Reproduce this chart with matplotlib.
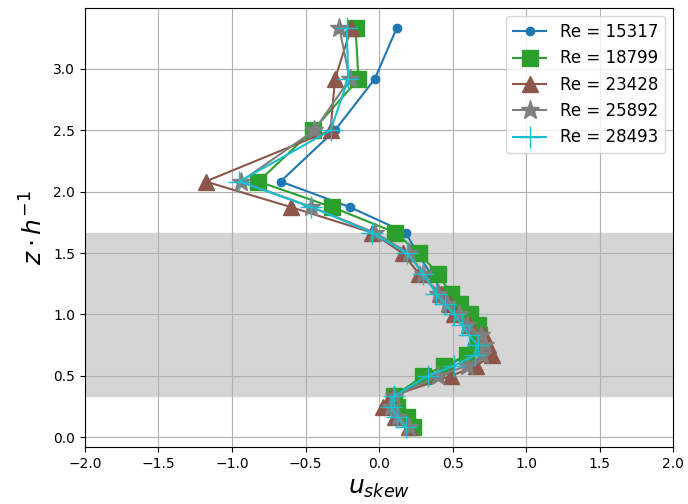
import matplotlib
matplotlib.use("Agg")
from matplotlib import pyplot as plt

# measurement heights (z/h) and skewness profiles for each Re
z = [0.083, 0.167, 0.25, 0.333, 0.5, 0.583, 0.667, 0.75, 0.833, 0.917, 1.0,
     1.083, 1.167, 1.333, 1.5, 1.667, 1.875, 2.083, 2.5, 2.917, 3.333]

re_labels = ["Re = 15317", "Re = 18799", "Re = 23428", "Re = 25892", "Re = 28493"]

skew_15317 = [0.20, 0.14, 0.10, 0.12, 0.35, 0.48, 0.58, 0.63, 0.65, 0.62, 0.57,
              0.50, 0.44, 0.35, 0.26, 0.18, -0.20, -0.67, -0.30, -0.03, 0.12]
skew_18799 = [0.23, 0.19, 0.12, 0.10, 0.30, 0.44, 0.60, 0.67, 0.68, 0.67, 0.62,
              0.55, 0.49, 0.40, 0.27, 0.11, -0.32, -0.82, -0.45, -0.14, -0.16]
skew_23428 = [0.20, 0.11, 0.03, 0.08, 0.49, 0.66, 0.77, 0.74, 0.71, 0.62, 0.51,
              0.48, 0.42, 0.27, 0.16, -0.05, -0.60, -1.18, -0.33, -0.30, -0.19]
skew_25892 = [0.20, 0.13, 0.08, 0.10, 0.40, 0.60, 0.70, 0.72, 0.69, 0.60, 0.54,
              0.46, 0.40, 0.30, 0.20, -0.03, -0.46, -0.94, -0.44, -0.20, -0.27]
skew_28493 = [0.18, 0.12, 0.08, 0.10, 0.33, 0.51, 0.65, 0.67, 0.61, 0.565, 0.51,
              0.45, 0.39, 0.30, 0.19, -0.05, -0.46, -0.95, -0.33, -0.21, -0.22]

# canopy region
band = (1 / 3, 5 / 3)

fig = plt.figure(figsize=(6.88, 5.04), dpi=100)
ax = fig.add_axes([0.1235, 0.113, 0.855, 0.871])

ax.axhspan(band[0], band[1], color="#d5d5d5", zorder=0)

styles = [("tab:blue", "o", 6),
          ("tab:green", "s", 12),
          ("tab:brown", "^", 12),
          ("tab:gray", "*", 14),
          ("tab:cyan", "+", 16)]
series = [skew_15317, skew_18799, skew_23428, skew_25892, skew_28493]

for vals, lab, (col, mk, ms) in zip(series, re_labels, styles):
    ax.plot(vals, z, color=col, marker=mk, markersize=ms, label=lab)

ax.set_xlim(-2, 2)
ax.grid(True)
ax.set_axisbelow(True)
ax.set_xlabel(r"$u_{skew}$", fontsize=18)
ax.set_ylabel(r"$z \cdot h^{-1}$", fontsize=18)
ax.legend(loc="upper right", fontsize=12)

fig.savefig("out.png", dpi=100)
